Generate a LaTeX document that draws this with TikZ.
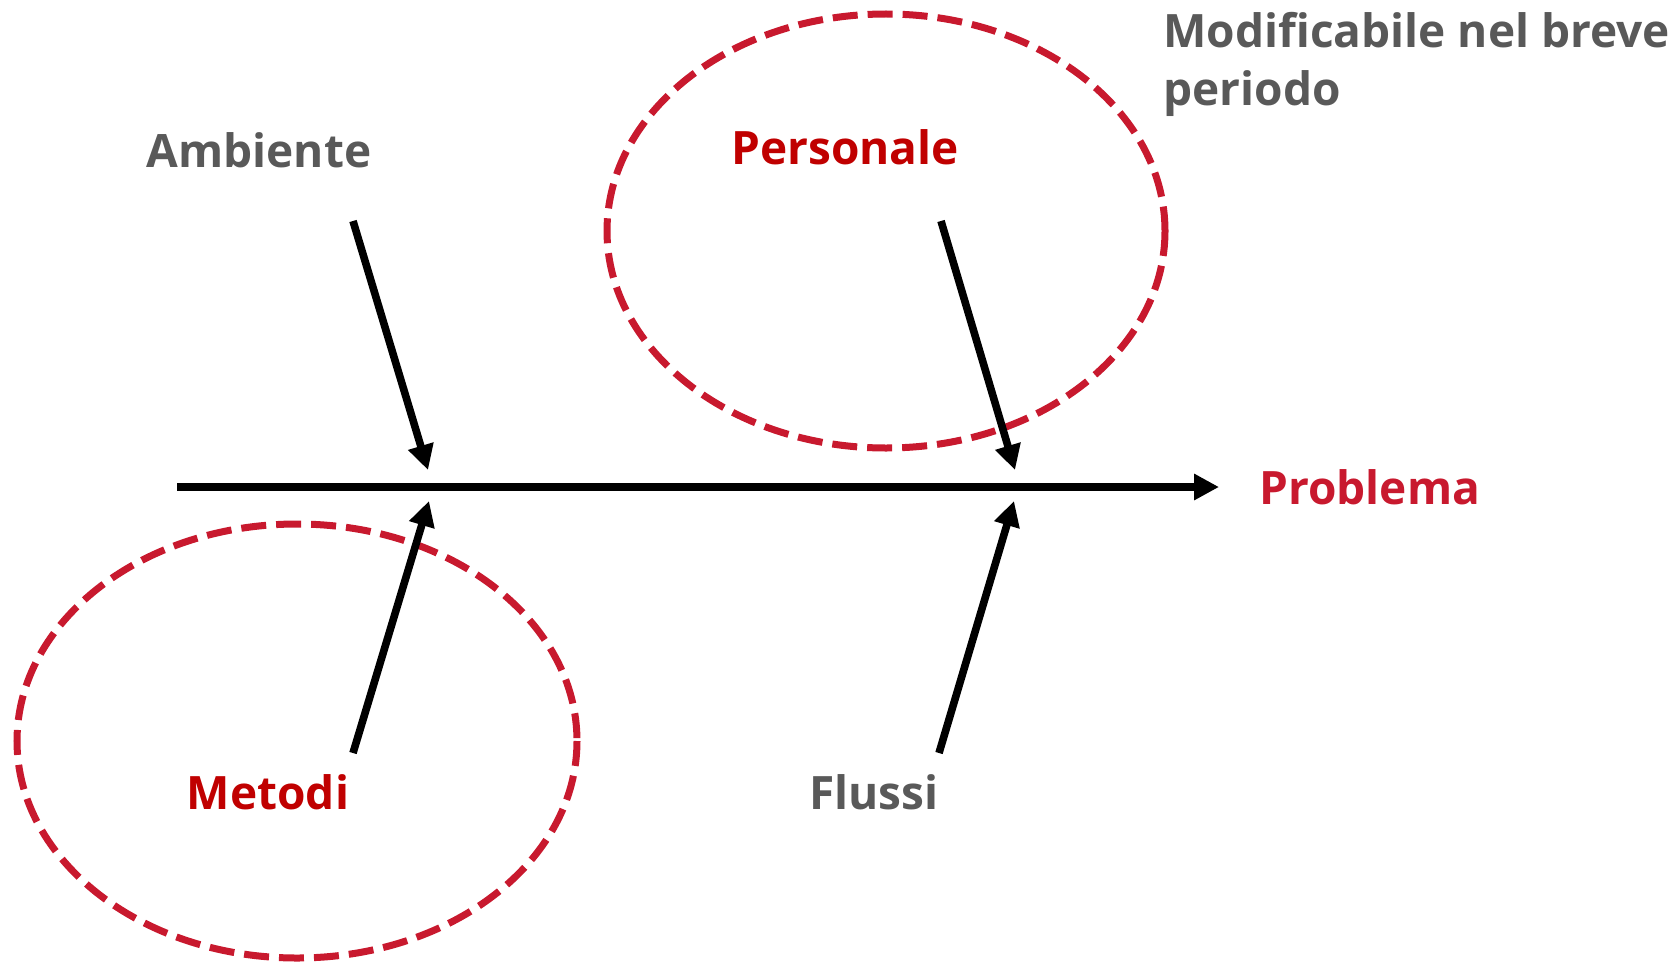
\documentclass[tikz,border=0pt]{standalone}
\usepackage{fontspec}
\setmainfont{Open Sans}
\usetikzlibrary{arrows.meta}
\definecolor{causered}{HTML}{C00000}
\definecolor{crimson}{HTML}{C8192E}
\definecolor{labelgrey}{HTML}{595959}
\begin{document}
\begin{tikzpicture}[x=0.5pt,y=-0.5pt,
  lbl/.style={font=\bfseries\fontsize{23}{29}\selectfont, inner sep=0pt},
  greylbl/.style={lbl, text=labelgrey},
  redlbl/.style={lbl, text=causered},
  bone/.style={line width=3.8pt, -{Triangle[length=12.5pt,width=12.5pt]}},
  zone/.style={crimson, line width=3.5pt, dash pattern=on 12.5pt off 5pt}]
\useasboundingbox (0,0) rectangle (1679,963);

% highlighted zones
\draw[zone] (886,231) ellipse [x radius=279, y radius=217];
\draw[zone] (297,741) ellipse [x radius=280, y radius=217];

% spine and effect
\coordinate (tail) at (177,487);
\node[lbl, text=crimson, anchor=west] (prob) at (1259,487) {Problema};
\draw[bone] (tail) -- (1219,487);

% cause labels
\node[greylbl] (amb) at (259,150) {Ambiente};
\node[redlbl] (pers) at (845,147) {Personale};
\node[redlbl] (met) at (268,792) {Metodi};
\node[greylbl] (flu) at (874,792) {Flussi};
\node[greylbl, anchor=north west, align=left] (note) at (1163,12)
  {Modificabile nel breve\\periodo};

% bone start and end points
\coordinate (a0) at (353,221); \coordinate (a1) at (428,470);
\coordinate (m0) at (353,753); \coordinate (m1) at (429,501);
\coordinate (p0) at (941,221); \coordinate (p1) at (1015,470);
\coordinate (f0) at (939,753); \coordinate (f1) at (1014,501);

\draw[bone] (a0) -- (a1);
\draw[bone] (m0) -- (m1);
\draw[bone] (p0) -- (p1);
\draw[bone] (f0) -- (f1);
\end{tikzpicture}
\end{document}
